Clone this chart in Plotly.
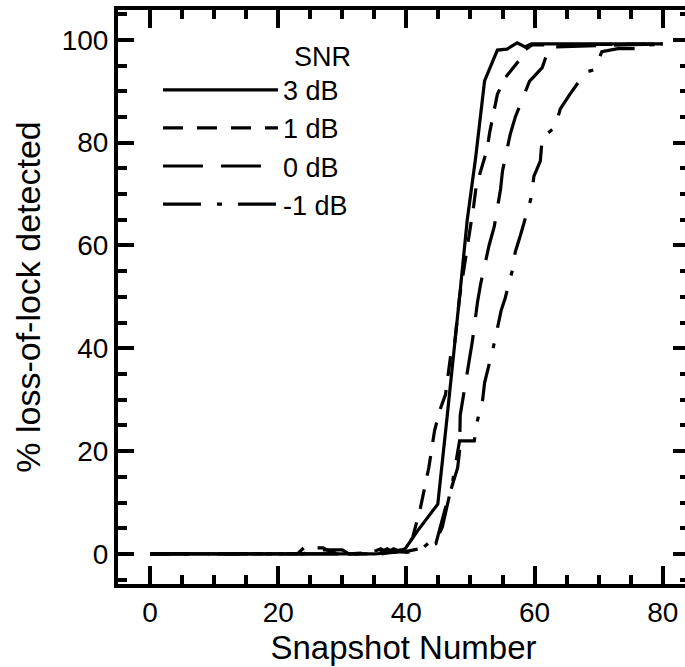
import plotly.graph_objects as go

# ---- data ----
snr_labels = ["3 dB", "1 dB", "0 dB", "-1 dB"]

x_3db = [0, 10, 20, 30, 35, 38, 39.8, 41.8, 44.9, 46.3, 47.5, 48.3, 49.5, 50.8, 52.2, 54.2, 55.7, 57.3, 58.5, 59.5, 70, 80]
y_3db = [0, 0, 0, 0, 0, 0.3, 1, 4.6, 9.7, 26, 40, 50, 65, 77, 92, 98, 98.2, 99.4, 98.6, 99.2, 99.2, 99.2]

x_1db = [0, 23, 24, 27, 28, 29, 30, 31, 36, 38, 40, 41, 42.2, 43.5, 44.4, 45.2, 46.1, 46.9, 47.5, 48.3, 49, 49.7,
         50.5, 50.9, 51.7, 52.6, 53, 53.7, 54.2, 55.4, 57.6, 58.5, 59.6, 80]
y_1db = [0, 0, 1.2, 1.2, 0.5, 0.2, 1, 0, 0, 0.5, 1, 3.3, 9, 16.8, 24, 27.9, 31, 38.5, 40.6, 50, 55.5, 61,
         67.7, 71.6, 75, 78.7, 82, 86, 89.4, 92.6, 96, 98, 99, 99.2]

x_0db = [0, 24, 25, 30, 31, 36, 37, 38, 40, 42, 44.6, 46.1, 48, 48.3, 48.4, 48.9, 49.8, 50.3, 51.1, 51.6, 52.9,
         53.7, 54.7, 55, 56.2, 57, 59.2, 61.2, 62.3, 80]
y_0db = [0, 0, 0.8, 0.8, 0, 0.4, 1, 0.3, 0.5, 1, 2, 9, 16.8, 20, 27, 30.8, 38, 41.4, 49, 52.6, 60,
         63.6, 71, 74.5, 81.6, 85, 91.9, 94.6, 98.6, 99.2]

x_m1db = [0, 34, 35, 36, 37, 38, 39, 40, 42.2, 43.6, 44.9, 45.6, 47.2, 48.3, 50.6, 51.1, 51.9, 52.2, 53.6, 54.3,
          54.8, 55.4, 56.5, 57, 57.8, 59.5, 59.9, 60.9, 61.2, 63.2, 64, 65.5, 67, 68.2, 69.4, 70.5, 73, 77, 77.8, 80]
y_m1db = [0, 0, 0.5, 1, 0.3, 1, 0.5, 0.3, 0.8, 2.3, 3.3, 5.2, 14, 22, 22, 26, 30, 33.3, 40.4, 44.3,
          47.4, 49.7, 55, 58.8, 62, 69.4, 73.5, 76.4, 81, 83, 86.5, 89.4, 92, 93.8, 94.2, 97.7, 98.3, 98.3, 99, 99.2]

series = [
    (snr_labels[0], x_3db, y_3db, "solid"),
    (snr_labels[1], x_1db, y_1db, "20px,14px"),
    (snr_labels[2], x_0db, y_0db, "40px,18px"),
    (snr_labels[3], x_m1db, y_m1db, "38px,16px,5px,16px"),
]

FONT = "Liberation Sans, Arial, Helvetica, sans-serif"

fig = go.Figure()
for name, xs, ys, dash in series:
    fig.add_trace(go.Scatter(x=xs, y=ys, mode="lines", name=name,
                             line=dict(color="black", width=3.2, dash=dash)))

axis_common = dict(
    showgrid=False, zeroline=False, showline=True, linecolor="black", linewidth=4,
    ticks="inside", tickcolor="black", tickwidth=3.5, mirror="allticks",
    tickmode="linear", tick0=0, dtick=20,
    tickfont=dict(family=FONT, size=28, color="black"),
)
minor_ticks = dict(dtick=5, tick0=0, ticks="inside", ticklen=9, tickwidth=3.5, tickcolor="black")

fig.update_layout(
    width=693, height=667,
    margin=dict(l=118, r=0, t=10, b=83),
    paper_bgcolor="white", plot_bgcolor="white",
    font=dict(family=FONT, color="black"),
    showlegend=True,
    legend=dict(
        x=0.07, y=0.964, xanchor="left", yanchor="top",
        bgcolor="rgba(0,0,0,0)", borderwidth=0,
        itemwidth=115,
        font=dict(family=FONT, size=27, color="black"),
        title=dict(text="SNR", side="top right", font=dict(family=FONT, size=27, color="black")),
        tracegroupgap=0,
    ),
    xaxis=dict(
        **axis_common,
        range=[-5.0, 84.1],
        ticklen=18, ticklabelstandoff=0,
        minor=minor_ticks,
        title=dict(text="Snapshot Number", font=dict(family=FONT, size=33, color="black"), standoff=10),
    ),
    yaxis=dict(
        **axis_common,
        range=[-5.84, 105.8],
        ticklen=16, ticklabelstandoff=0,
        minor=minor_ticks,
        title=dict(text="% loss-of-lock detected", font=dict(family=FONT, size=34, color="black"), standoff=12),
    ),
)

fig.write_html(
    "out.html",
    config={"displayModeBar": False},
    post_script="document.body.style.margin='0';document.body.style.overflow='hidden';"
                "document.documentElement.style.overflow='hidden';",
)
